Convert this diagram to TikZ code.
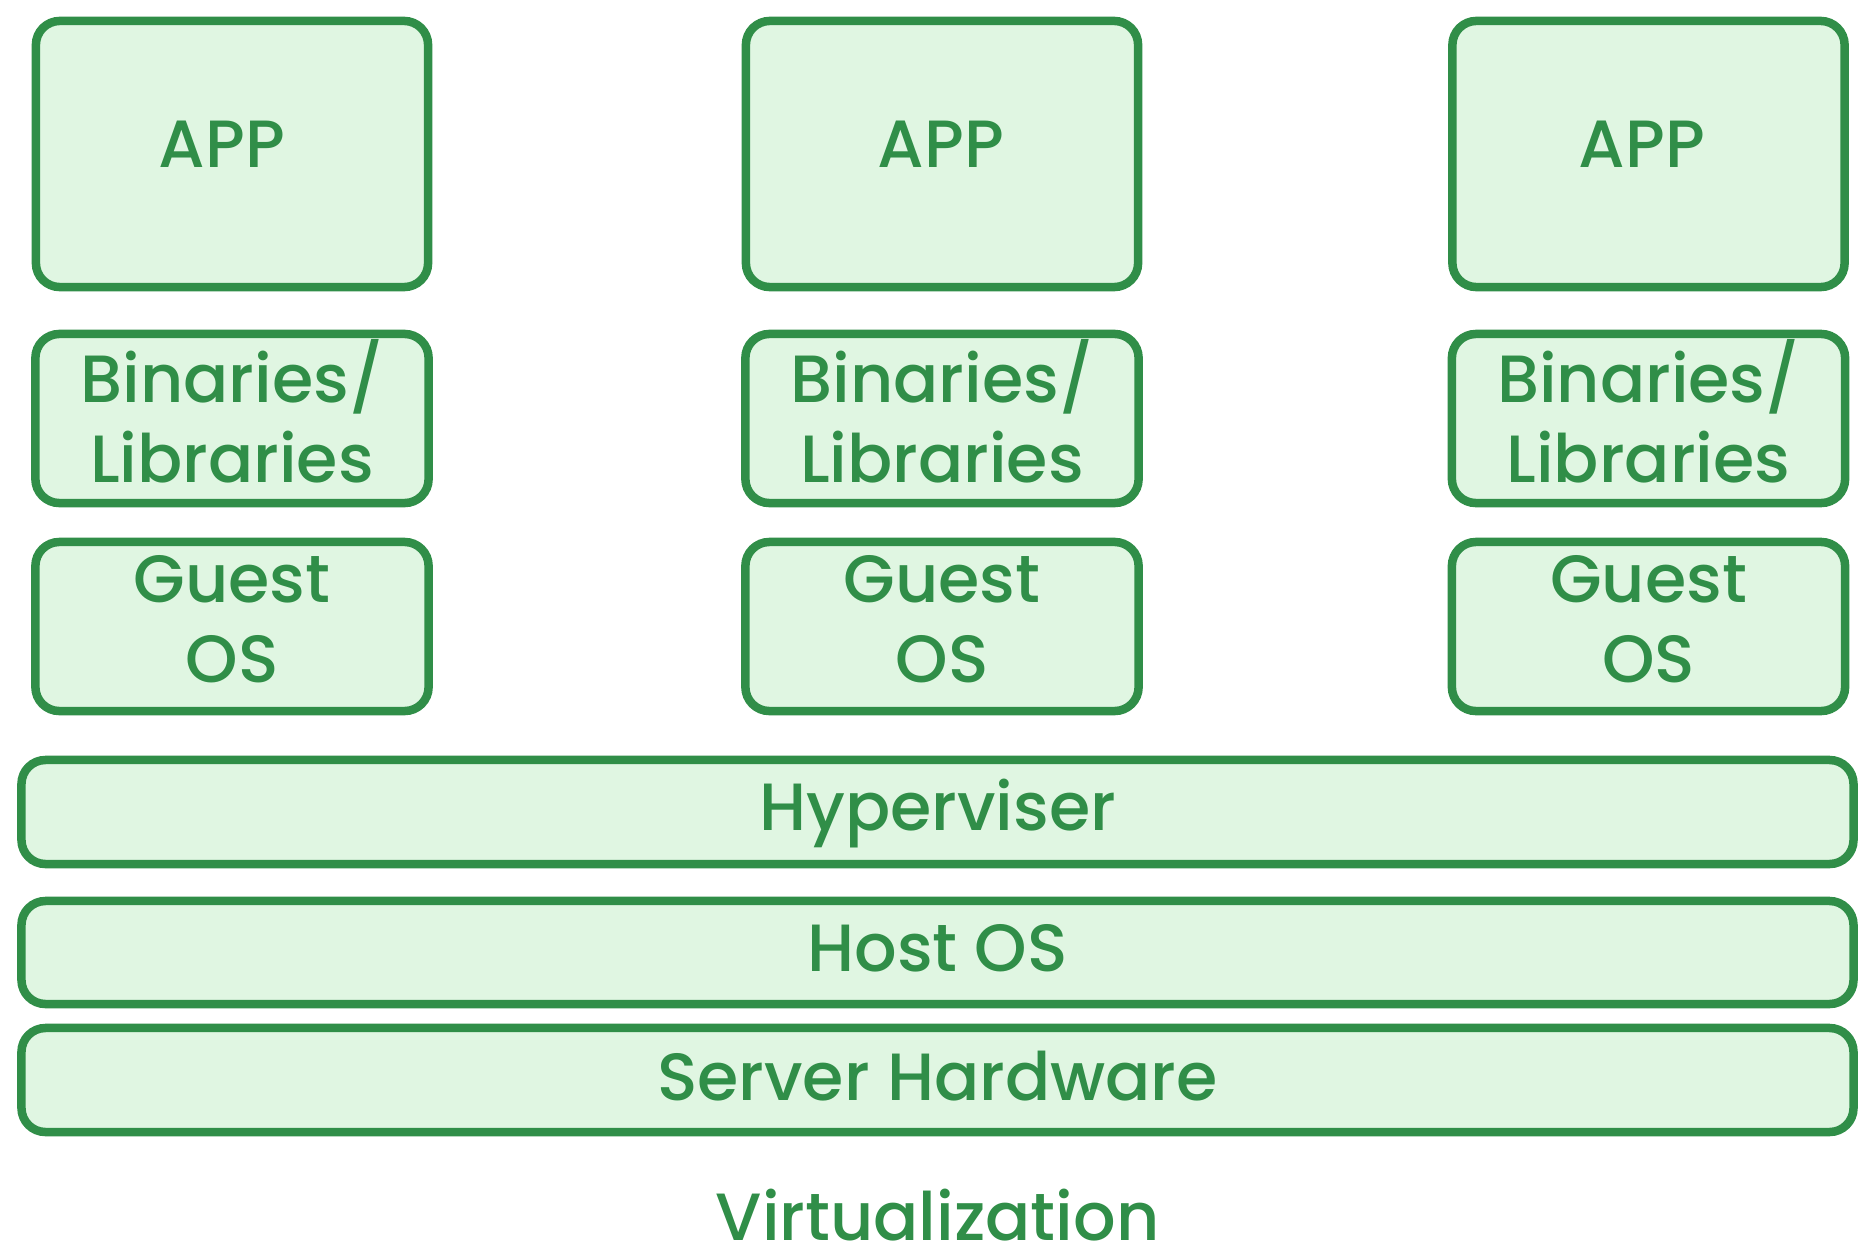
\documentclass[tikz,border=0pt]{standalone}
\usepackage{fontspec}
\setmainfont{Poppins Medium}
\definecolor{gline}{RGB}{48,142,72}
\definecolor{gfill}{RGB}{224,246,226}
\tikzset{
  px/.style={x=0.01cm,y=-0.01cm},
  layerbox/.style={draw=gline, fill=gfill, line width=0.085cm, rounded corners=0.24cm, inner sep=0pt},
  lbl/.style={text=gline, font=\fontsize{19}{23}\selectfont, anchor=base, inner sep=0pt}
}
\begin{document}
\begin{tikzpicture}[px]
\useasboundingbox (0,0) rectangle (1875,1257);
% columns
\foreach \c/\x/\ax in {1/232/222,2/942/941,3/1648.5/1642}{
  \node[layerbox, minimum width=3.92cm, minimum height=2.66cm] (app\c) at (\x,154) {};
  \node[layerbox, minimum width=3.93cm, minimum height=1.69cm] (bin\c) at (\x,418.5) {};
  \node[layerbox, minimum width=3.93cm, minimum height=1.69cm] (guest\c) at (\x,626.5) {};
  \node[lbl] (applbl\c) at (\ax,167) {APP};
  \node[lbl] (binlbl\c) at (\x,402) {Binaries/};
  \node[lbl] (liblbl\c) at (\x,482) {Libraries};
  \node[lbl] (guestlbl\c) at (\x,602) {Guest};
  \node[lbl] (oslbl\c) at (\x,682) {OS};
}
% bars
\node[layerbox, minimum width=18.31cm, minimum height=1.04cm] (hyp) at (937.5,812) {};
\node[layerbox, minimum width=18.31cm, minimum height=1.03cm] (host) at (937.5,952.5) {};
\node[layerbox, minimum width=18.31cm, minimum height=1.04cm] (hw) at (937.5,1080) {};
\node[lbl] (hyplbl) at (937.5,830) {Hyperviser};
\node[lbl] (hostlbl) at (937.5,971) {Host OS};
\node[lbl] (hwlbl) at (937.5,1100) {Server Hardware};
\node[lbl] (title) at (937.5,1240) {Virtualization};
\end{tikzpicture}
\end{document}
